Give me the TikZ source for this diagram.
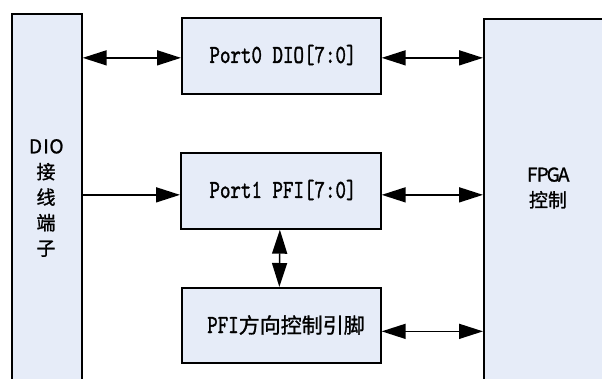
\documentclass[tikz,border=0pt]{standalone}
\usepackage{fontspec}
\newfontfamily\cjk{Noto Sans CJK SC}[FakeBold=1.2]
\newfontfamily\portff{lmmono10-regular}[Extension=.otf,FakeBold=1.6]
\usetikzlibrary{arrows.meta}
\newcommand{\hwc}[1]{\makebox[10.5pt]{#1}}
\newcommand{\portfont}{\portff\fontsize{20}{24}\selectfont}
\begin{document}
\begin{tikzpicture}[x=1pt,y=-1pt,
  blk/.style={draw=black,line width=1.7pt,fill=boxfill,inner sep=0pt},
  conn/.style={line width=1.6pt,-{Triangle[length=24pt,width=15pt]}},
  bconn/.style={line width=1.6pt,{Triangle[length=24pt,width=15pt]}-{Triangle[length=24pt,width=15pt]}},
  lbl/.style={font=\cjk\fontsize{19}{25.5}\selectfont,align=center,inner sep=0pt}]
\definecolor{boxfill}{RGB}{230,236,248}
\useasboundingbox (0,0) rectangle (602,378);
\clip (0,0) rectangle (602,378);
\node[blk,anchor=north west,minimum width=70pt,minimum height=380pt] (dio) at (11,13) {};
\node[blk,anchor=north west,minimum width=130pt,minimum height=380pt] (fpga) at (483,18) {};
\node[blk,anchor=north west,minimum width=199pt,minimum height=76pt] (p0) at (181,17) {};
\node[blk,anchor=north west,minimum width=200pt,minimum height=76pt] (p1) at (180,152) {};
\node[blk,anchor=north west,minimum width=199pt,minimum height=75pt] (pfi) at (181,287) {};
\node[font=\portfont,inner sep=0pt] (p0t) at (283,55) {\scalebox{1}[1.3]{Port0 DIO[7:0]}};
\node[font=\portfont,inner sep=0pt] (p1t) at (283,190) {\scalebox{1}[1.3]{Port1 PFI[7:0]}};
\node[inner sep=0pt] (pfit) at (286,325) {{\portfont\scalebox{1}[1.3]{PFI}}{\cjk\fontsize{21}{24}\selectfont 方向控制引脚}};
\node[lbl] (diot) at (46,198) {\hwc{D}\hwc{I}\hwc{O}\\接\\线\\端\\子};
\node[lbl] (fpgat) at (548,188) {\hwc{F}\hwc{P}\hwc{G}\hwc{A}\\控制};
\draw[bconn] ([yshift=-2pt]dio.east |- p0.west) -- ([yshift=-2pt]p0.west);
\draw[conn] ([yshift=-4pt]dio.east |- p1.west) -- ([yshift=-4pt]p1.west);
\draw[bconn] ([yshift=-2pt]p0.east) -- ([yshift=-2pt]p0.east -| fpga.west);
\draw[bconn] ([yshift=-4pt]p1.east) -- ([yshift=-4pt]p1.east -| fpga.west);
\draw[bconn] ([yshift=-6pt]pfi.east) -- ([yshift=-6pt]pfi.east -| fpga.west);
\draw[bconn] ([xshift=-1pt]p1.south) -- ([xshift=-2pt]pfi.north);
\end{tikzpicture}
\end{document}
